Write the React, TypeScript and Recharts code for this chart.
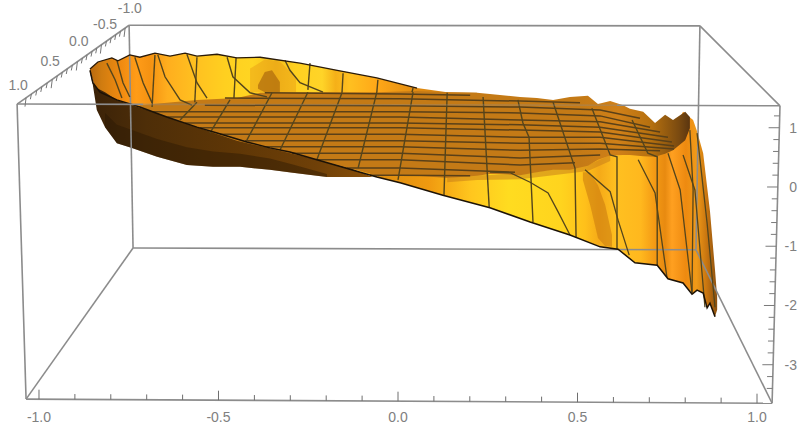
import { Area, ComposedChart, Line, ReferenceDot, XAxis, YAxis } from 'recharts'

type Pair = [number, number]
type Band = [number, number, number]

// values: u along the front axis, z on the right axis
const xTicks = [-1, -0.5, 0, 0.5, 1]
const zTicks = [1, 0, -1, -2, -3]
const depthLabels: [string, number, number][] = [
  ['1.0', -1.058, 1.72],
  ['0.5', -0.969, 2.13],
  ['0.0', -0.889, 2.46],
  ['-0.5', -0.816, 2.75],
  ['-1.0', -0.747, 3.02],
]

const bottomTickU = [-1, -0.9, -0.8, -0.7, -0.6, -0.5, -0.4, -0.3, -0.2, -0.1, 0, 0.1, 0.2, 0.3, 0.4, 0.5, 0.6, 0.7, 0.8, 0.9, 1]
const rightTickZ = [1.2, 1, 0.8, 0.6, 0.4, 0.2, 0, -0.2, -0.4, -0.6, -0.8, -1, -1.2, -1.4, -1.6, -1.8, -2, -2.2, -2.4, -2.6, -2.8, -3, -3.2, -3.4]
const depthTickU = [-1.036, -1.021, -1.006, -0.992, -0.977, -0.963, -0.949, -0.935, -0.921, -0.907, -0.893, -0.879, -0.866, -0.852, -0.839, -0.826, -0.812, -0.799, -0.786, -0.773, -0.76]

const boxBack: Pair[][] = [
  [[-0.749, 2.73], [0.841, 2.72]],
  [[-0.749, 2.73], [-0.738, -1.03]],
  [[-0.738, -1.03], [0.83, -1.06]],
  [[0.841, 2.72], [0.83, -1.06]],
  [[-1.036, -3.58], [-0.738, -1.03]],
  [[1.042, -3.65], [0.83, -1.06]],
]
const boxFront: Pair[][] = [
  [[-1.061, 1.4], [-0.71, 1.395]],
  [[0.61, 1.38], [1.064, 1.37]],
  [[-1.061, 1.4], [-1.036, -3.58]],
  [[1.064, 1.37], [1.042, -3.65]],
  [[-1.036, -3.58], [1.042, -3.65]],
  [[-1.061, 1.4], [-0.749, 2.73]],
  [[1.064, 1.37], [0.841, 2.72]],
]
const boxFrontFaint: Pair[] = [[-0.71, 1.395], [0.61, 1.38]]

// [u, low z, high z]
const wallBand: Band[] = [
  [-0.858, 1.97, 1.99], [-0.836, 1.5, 2.11], [-0.797, 1.35, 2.18], [-0.78, 1.3, 2.13], [-0.747, 1.25, 2.23],
  [-0.719, 1.3, 2.19], [-0.677, 1.27, 2.26], [-0.635, 1.16, 2.21], [-0.593, 1.08, 2.26], [-0.56, 1.01, 2.21],
  [-0.504, 0.91, 2.24], [-0.449, 0.81, 2.18], [-0.384, 0.69, 2.19], [-0.273, 0.54, 2.09], [-0.162, 0.37, 1.96],
  [-0.059, 0.17, 1.84], [0.053, 0.17, 1.67], [0.137, 0.17, 1.6], [0.22, 0.17, 1.59],
]
const wallShade: Band[] = [[-0.412, 1.6, 2.0], [-0.371, 1.6, 2.15], [-0.329, 1.6, 2.12], [-0.284, 1.6, 1.85]]
const wallPatch: Band[] = [[-0.39, 1.66, 1.72], [-0.371, 1.6, 1.94], [-0.351, 1.6, 1.97], [-0.329, 1.6, 1.77]]
const undersideBand: Band[] = [
  [-0.858, 1.94, 1.97], [-0.85, 1.72, 1.76], [-0.839, 1.3, 1.67], [-0.816, 1.01, 1.6], [-0.783, 0.74, 1.47],
  [-0.741, 0.66, 1.38], [-0.671, 0.51, 1.25], [-0.588, 0.37, 1.08], [-0.515, 0.34, 0.93], [-0.44, 0.34, 0.79],
  [-0.357, 0.29, 0.66], [-0.293, 0.24, 0.59], [-0.198, 0.17, 0.42], [-0.134, 0.17, 0.32], [-0.07, 0.17, 0.17],
]
const undersideShade: Band[] = [
  [-0.816, 1.01, 1.25], [-0.783, 0.74, 1.05], [-0.741, 0.66, 0.96], [-0.671, 0.51, 0.81], [-0.588, 0.37, 0.67],
  [-0.515, 0.34, 0.6], [-0.44, 0.34, 0.56], [-0.357, 0.29, 0.48], [-0.293, 0.24, 0.38], [-0.198, 0.17, 0.22],
]
const curtainBand: Band[] = [
  [-0.078, 0.2, 0.25], [0.006, 0.07, 0.25], [0.125, -0.14, 0.25], [0.256, -0.35, 0.29], [0.368, -0.59, 0.29],
  [0.479, -0.81, 0.37], [0.563, -1.01, 0.54], [0.613, -1.05, 0.62], [0.66, -1.28, 0.62], [0.722, -1.32, 0.71],
  [0.752, -1.55, 0.79], [0.794, -1.62, 1.27], [0.822, -1.81, 1.13], [0.833, -1.74, 0.94], [0.85, -1.79, 0.57],
  [0.861, -2.04, 0], [0.869, -1.96, -0.41], [0.883, -2.19, -1.4], [0.889, -2.07, -1.86],
]
const curtainStreak: Band[] = [[0.515, 0.12, 0.25], [0.535, -0.3, 0.25], [0.557, -0.86, 0.03], [0.577, -1, -0.3], [0.596, -1.01, -0.81]]
const plateauBand: Band[] = [
  [-0.719, 1.35, 1.38], [-0.644, 1.18, 1.42], [-0.56, 1.01, 1.47], [-0.449, 0.78, 1.5], [-0.384, 0.69, 1.59],
  [-0.245, 0.49, 1.6], [-0.059, 0.2, 1.6], [0.053, 0.19, 1.62], [0.137, 0.15, 1.6], [0.22, 0.19, 1.59],
  [0.256, 0.22, 1.57], [0.34, 0.2, 1.52], [0.387, 0.25, 1.5], [0.432, 0.29, 1.47], [0.479, 0.29, 1.52],
  [0.529, 0.36, 1.54], [0.557, 0.46, 1.4], [0.591, 0.53, 1.45], [0.627, 0.54, 1.38], [0.646, 0.54, 1.32],
  [0.683, 0.52, 1.27], [0.716, 0.51, 1.08], [0.744, 0.56, 1.22], [0.766, 0.62, 1.13], [0.8, 0.79, 1.27], [0.813, 0.99, 1.18],
]
const plateauFringe: Band[] = [
  [0.137, 0.08, 0.16], [0.22, 0.12, 0.2], [0.34, 0.13, 0.21], [0.432, 0.2, 0.3], [0.529, 0.27, 0.37], [0.591, 0.44, 0.54],
]

const rimTop: Pair[] = [
  [-0.858, 1.99], [-0.836, 2.11], [-0.797, 2.18], [-0.78, 2.13], [-0.747, 2.23], [-0.719, 2.19], [-0.677, 2.26],
  [-0.635, 2.21], [-0.593, 2.26], [-0.56, 2.21], [-0.504, 2.24], [-0.449, 2.18], [-0.384, 2.19], [-0.273, 2.09],
  [-0.162, 1.96], [-0.059, 1.84], [0.053, 1.67],
]
const rimFront: Pair[] = [
  [-0.858, 1.97], [-0.85, 1.76], [-0.83, 1.6], [-0.783, 1.47], [-0.719, 1.35], [-0.644, 1.18], [-0.56, 1.01],
  [-0.504, 0.91], [-0.421, 0.76], [-0.357, 0.66], [-0.301, 0.59], [-0.226, 0.46], [-0.059, 0.17], [0.006, 0.07],
  [0.125, -0.14], [0.256, -0.35], [0.368, -0.59], [0.479, -0.81], [0.563, -1.01], [0.613, -1.05], [0.66, -1.28],
  [0.722, -1.32], [0.752, -1.55], [0.794, -1.62], [0.819, -1.81], [0.833, -1.74], [0.85, -1.79], [0.861, -2.04],
  [0.869, -1.96], [0.883, -2.19],
]

const latitudes: Pair[][] = [
  [[-0.371, 1.59], [0.006, 1.57], [0.201, 1.55]],
  [[-0.482, 1.5], [0.006, 1.49], [0.34, 1.45], [0.507, 1.42]],
  [[-0.538, 1.38], [0.006, 1.37], [0.34, 1.35], [0.563, 1.3], [0.674, 1.16]],
  [[-0.683, 1.27], [0.006, 1.27], [0.34, 1.25], [0.563, 1.2], [0.702, 1.01]],
  [[-0.644, 1.18], [0.006, 1.18], [0.34, 1.13], [0.563, 1.1], [0.73, 0.93]],
  [[-0.593, 1.08], [0.006, 1.08], [0.34, 1.05], [0.563, 1.01], [0.752, 0.84]],
  [[-0.552, 1], [0.006, 1], [0.34, 0.96], [0.563, 0.93], [0.763, 0.76]],
  [[-0.496, 0.89], [0.006, 0.89], [0.34, 0.84], [0.563, 0.84], [0.769, 0.69]],
  [[-0.426, 0.78], [0.006, 0.78], [0.34, 0.74], [0.563, 0.74], [0.769, 0.64]],
  [[-0.371, 0.68], [0.006, 0.68], [0.34, 0.62], [0.563, 0.64], [0.73, 0.61]],
  [[-0.295, 0.57], [0.006, 0.57], [0.34, 0.49], [0.563, 0.54]],
  [[-0.226, 0.46], [0.006, 0.46], [0.34, 0.37], [0.493, 0.41]],
  [[-0.142, 0.32], [0.006, 0.32], [0.326, 0.25]],
  [[-0.078, 0.2], [0.006, 0.2], [0.201, 0.19]],
]

const wallMeridians: Pair[][] = [
  [[-0.811, 2.09], [-0.788, 1.81], [-0.769, 1.5]],
  [[-0.783, 2.14], [-0.766, 1.76], [-0.747, 1.52]],
  [[-0.733, 2.19], [-0.71, 1.76], [-0.685, 1.42]],
  [[-0.677, 2.23], [-0.685, 1.35]],
  [[-0.669, 2.23], [-0.649, 1.86], [-0.607, 1.47], [-0.574, 1.38]],
  [[-0.588, 2.24], [-0.56, 1.76], [-0.532, 1.5]],
  [[-0.56, 2.19], [-0.566, 1.43]],
  [[-0.476, 2.19], [-0.46, 1.86], [-0.412, 1.59], [-0.365, 1.52]],
  [[-0.451, 2.18], [-0.457, 1.5]],
  [[-0.315, 2.14], [-0.301, 1.97], [-0.273, 1.76], [-0.209, 1.6]],
  [[-0.245, 2.09], [-0.251, 1.64]],
  [[-0.153, 1.92], [-0.156, 1.59]],
  [[-0.056, 1.81], [-0.059, 1.6]],
  [[0.042, 1.67], [0.039, 1.6]],
]
const plateauMeridians: Pair[][] = [
  [[-0.56, 1.43], [-0.607, 1.13]],
  [[-0.468, 1.47], [-0.524, 0.91]],
  [[-0.351, 1.59], [-0.421, 0.79]],
  [[-0.251, 1.6], [-0.329, 0.62]],
  [[-0.156, 1.59], [-0.226, 0.46]],
  [[-0.059, 1.6], [-0.111, 0.32]],
  [[0.042, 1.6], [0, 0.12]],
  [[0.137, 1.59], [0.128, -0.14]],
  [[0.237, 1.52], [0.254, -0.34]],
  [[0.334, 1.47], [0.348, 1.08], [0.365, 0.84], [0.376, -0.59]],
  [[0.432, 1.43], [0.493, 0.32], [0.496, -0.86]],
  [[0.54, 1.33], [0.591, 0.54], [0.61, 0.51], [0.61, -1.05]],
  [[0.652, 1.13], [0.696, 0.57], [0.722, 0.51], [0.722, -1.32]],
]
const curtainMeridians: Pair[][] = [
  [[0.256, 0.25], [0.312, 0.24], [0.368, 0.08], [0.418, -0.1], [0.446, -0.42], [0.479, -0.81]],
  [[0.521, 0.29], [0.591, -0.08], [0.613, -0.56], [0.644, -1.15]],
  [[0.669, 0.46], [0.716, -0.1], [0.749, -1.52]],
  [[0.752, 0.57], [0.786, -0.05], [0.819, -1.79]],
  [[0.794, 0.54], [0.827, -0.05], [0.855, -2.03]],
  [[0.813, 0.96], [0.822, -0.05], [0.819, -1.79]],
  [[0.833, 0.91], [0.861, -0.61], [0.883, -2.03]],
]

const wallStops: [number, string][] = [
  [0, '#b8690f'], [0.03, '#d07c10'], [0.08, '#f08a10'], [0.12, '#ff9c18'], [0.155, '#f59212'], [0.2, '#ffae1e'],
  [0.27, '#ffc020'], [0.35, '#ffd020'], [0.42, '#ffd522'], [0.48, '#f5c01c'], [0.53, '#ffd020'],
  [0.6, '#ffd428'], [0.635, '#f5b018'], [0.67, '#ffc020'], [0.74, '#ffa818'], [0.85, '#e08a10'], [1, '#c47a16'],
]
const undersideStops: [number, string][] = [
  [0, '#3a2208'], [0.2, '#4e2e08'], [0.5, '#5e3606'], [0.8, '#6f4008'], [1, '#8a5008'],
]
const curtainStops: [number, string][] = [
  [0, '#d98a10'], [0.17, '#f09a10'], [0.29, '#ffc61e'], [0.4, '#ffdc20'], [0.55, '#ffd41e'], [0.62, '#ffc01a'],
  [0.66, '#f5aa18'], [0.71, '#ffc020'], [0.78, '#ffb81e'], [0.82, '#f49a14'], [0.85, '#e88a10'],
  [0.87, '#ffa020'], [0.91, '#ee8a10'], [0.94, '#f09a18'], [0.97, '#c87510'], [1, '#8a5010'],
]
const plateauStops: [number, string][] = [
  [0, '#c47a16'], [0.8, '#c47a16'], [0.87, '#d08018'], [0.93, '#b5700f'], [0.98, '#7a4a10'], [1, '#5a3510'],
]

const toPoints = (pairs: Pair[]) => pairs.map(([u, z]) => ({ u, z }))
const toBand = (rows: Band[]) => rows.map(([u, lo, hi]) => ({ u, range: [lo, hi] }))

// tick marks sit on the box edges, so each one is a short piece with a gap after it
const bottomTicks = bottomTickU.flatMap((u, i) => {
  const z = -3.58 - ((u + 1.036) / 2.078) * 0.07
  return [{ u, z }, { u, z: z + (i % 5 === 0 ? 0.16 : 0.09) }, { u, z: null }]
})
const rightTicks = rightTickZ.flatMap((z, i) => {
  const u = 1.064 - ((1.37 - z) / 5.02) * 0.022
  return [{ u, z }, { u: u - (i % 5 === 1 ? 0.03 : 0.016), z }, { u, z: null }]
})
const depthTicks = depthTickU.flatMap((u, i) => {
  const z = 1.4 + ((u + 1.061) / 0.312) * 1.33
  return [{ u, z }, { u: u - 0.003, z: z - (i % 5 === 0 ? 0.15 : 0.09) }, { u, z: null }]
})

const GREY = '#8c8c8c'
const GRID = '#54451c'
const TEXT = '#808080'
const fontFamily = '"Liberation Sans", Arial, sans-serif'

function Gradient({ id, stops }: { id: string; stops: [number, string][] }) {
  return (
    <linearGradient id={id} x1="0" y1="0" x2="1" y2="0">
      {stops.map(([at, color]) => (
        <stop key={at} offset={at} stopColor={color} />
      ))}
    </linearGradient>
  )
}

function ZTick({ y, payload }: any) {
  return (
    <text x={797} y={y + 5} textAnchor="end" fill={TEXT} fontSize={14} fontFamily={fontFamily}>
      {payload.value}
    </text>
  )
}

const line = (key: string, data: any[], stroke: string, strokeWidth: number, opacity = 1) => (
  <Line
    key={key}
    data={data}
    dataKey="z"
    stroke={stroke}
    strokeWidth={strokeWidth}
    strokeOpacity={opacity}
    dot={false}
    activeDot={false}
    legendType="none"
    isAnimationActive={false}
  />
)

const band = (key: string, rows: Band[], fill: string, opacity = 1) => (
  <Area
    key={key}
    data={toBand(rows)}
    dataKey="range"
    fill={fill}
    fillOpacity={opacity}
    stroke="none"
    dot={false}
    activeDot={false}
    legendType="none"
    isAnimationActive={false}
  />
)

export default function App() {
  return (
    <div style={{ position: 'absolute', left: 0, top: 0, width: 799, height: 435, background: '#fff' }}>
      <ComposedChart width={799} height={435} margin={{ top: 0, right: 0, bottom: 0, left: 0 }}>
        <defs>
          <Gradient id="wall" stops={wallStops} />
          <Gradient id="underside" stops={undersideStops} />
          <Gradient id="curtain" stops={curtainStops} />
          <Gradient id="plateau" stops={plateauStops} />
        </defs>
        <XAxis
          dataKey="u"
          type="number"
          domain={[-1.1086, 1.0696]}
          ticks={xTicks}
          interval={0}
          height={25}
          axisLine={false}
          tickLine={false}
          tickSize={0}
          tickMargin={2}
          tickFormatter={(v: number) => v.toFixed(1)}
          tick={{ fill: TEXT, fontSize: 14, fontFamily }}
        />
        <YAxis
          type="number"
          orientation="right"
          domain={[-3.764, 3.156]}
          ticks={zTicks}
          interval={0}
          width={17}
          axisLine={false}
          tickLine={false}
          tick={<ZTick />}
        />

        {boxBack.map((p, i) => line(`back${i}`, toPoints(p), GREY, 1.6))}

        {band('wall', wallBand, 'url(#wall)')}
        {band('wallShade', wallShade, '#e08a10', 0.35)}
        {band('wallPatch', wallPatch, '#a8640c', 0.65)}
        {band('underside', undersideBand, 'url(#underside)')}
        {band('undersideShade', undersideShade, '#2a1804', 0.45)}
        {band('curtain', curtainBand, 'url(#curtain)')}
        {band('streak', curtainStreak, '#c9780f', 0.55)}
        {band('fringe', plateauFringe, '#c9801a', 0.55)}
        {band('plateau', plateauBand, 'url(#plateau)')}

        {wallMeridians.map((p, i) => line(`wm${i}`, toPoints(p), GRID, 1.4))}
        {latitudes.map((p, i) => line(`lat${i}`, toPoints(p), '#5a4018', 1.5))}
        {plateauMeridians.map((p, i) => line(`pm${i}`, toPoints(p), GRID, 1.4))}
        {curtainMeridians.map((p, i) => line(`cm${i}`, toPoints(p), GRID, 1.3))}
        {line('rimTop', toPoints(rimTop), '#2a1a08', 1.3)}
        {line('rimFront', toPoints(rimFront), '#1c1206', 1.5)}

        {line('faint', toPoints(boxFrontFaint), GREY, 1.6, 0.35)}
        {boxFront.map((p, i) => line(`front${i}`, toPoints(p), GREY, 1.6))}
        {line('bottomTicks', bottomTicks, '#6e6e6e', 1)}
        {line('rightTicks', rightTicks, '#7a7a7a', 1)}
        {line('depthTicks', depthTicks, '#777777', 1)}

        {depthLabels.map(([text, u, z]) => (
          <ReferenceDot
            key={text}
            x={u}
            y={z}
            r={0}
            fill="none"
            stroke="none"
            ifOverflow="visible"
            label={{ value: text, position: 'center', fill: TEXT, fontSize: 14, fontFamily }}
          />
        ))}
      </ComposedChart>
    </div>
  )
}
